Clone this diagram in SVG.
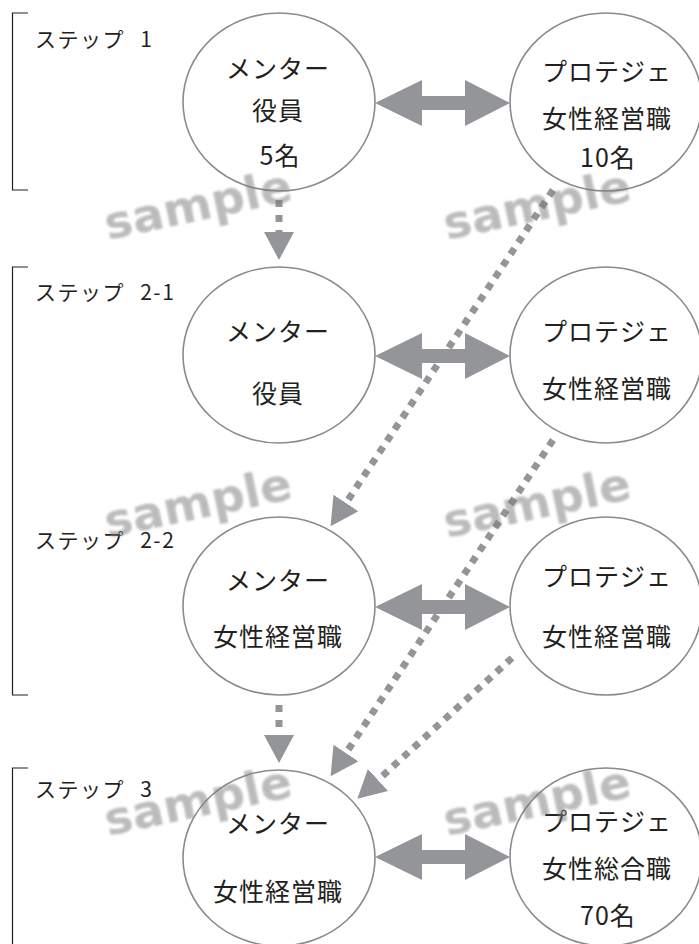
<svg xmlns="http://www.w3.org/2000/svg" xmlns:xlink="http://www.w3.org/1999/xlink" width="699" height="944" viewBox="0 0 699 944">
<style>
  .node ellipse { fill: #ffffff; stroke: #8a8a8c; stroke-width: 1.6; }
  .lbl { font-family: "Noto Sans CJK JP", "Noto Sans", sans-serif; font-size: 25px; fill: #231f20; text-anchor: middle; letter-spacing: 1px; }
  .step { font-family: "Noto Sans CJK JP", "Noto Sans", sans-serif; font-size: 21px; fill: #231f20; letter-spacing: 1.5px; word-spacing: 9px; }
  .bracket { fill: none; stroke: #231f20; stroke-width: 1.2; }
  .dot { fill: none; stroke: #939598; stroke-width: 7; stroke-dasharray: 7 7; marker-end: url(#head); }
  .dotv { fill: none; stroke: #939598; stroke-width: 7; stroke-dasharray: 7 8; marker-end: url(#head); }
  .dbl { fill: #939598; }
  .wm { font-family: "DejaVu Sans", Verdana, sans-serif; font-weight: bold; font-size: 47px; fill: #7a7a7a; opacity: 0.5; filter: url(#blur); }
</style>
<defs>
  <marker id="head" markerUnits="userSpaceOnUse" viewBox="0 -15 28 30" refX="0" refY="0" markerWidth="28" markerHeight="30" orient="auto">
    <path d="M0,-15 L28,0 L0,15 Z" fill="#939598"/>
  </marker>
  <path id="dblarrow" d="M375,0 L422,-23 L422,-7 L465,-7 L465,-23 L510,0 L465,23 L465,7 L422,7 L422,23 Z"/>
  <filter id="blur" x="-10%" y="-30%" width="120%" height="160%">
    <feGaussianBlur stdDeviation="1.3"/>
  </filter>
</defs>
<rect width="699" height="944" fill="#ffffff"/>

<g id="brackets">
  <path class="bracket" d="M28,13 H12.5 V190 H28"/>
  <path class="bracket" d="M28,267 H12.5 V695 H28"/>
  <path class="bracket" d="M28,768 H12.5 V944"/>
</g>

<g id="step-labels">
  <text class="step" x="35" y="47">ステップ 1</text>
  <text class="step" x="35" y="300">ステップ 2-1</text>
  <text class="step" x="35" y="548">ステップ 2-2</text>
  <text class="step" x="35" y="797">ステップ 3</text>
</g>

<g id="connectors">
  <use xlink:href="#dblarrow" class="dbl" transform="translate(0,103)"/>
  <use xlink:href="#dblarrow" class="dbl" transform="translate(0,356)"/>
  <use xlink:href="#dblarrow" class="dbl" transform="translate(0,607)"/>
  <use xlink:href="#dblarrow" class="dbl" transform="translate(0,857)"/>
  <path class="dotv" d="M279,200 V232"/>
  <path class="dotv" d="M279,705 V735"/>
  <path class="dot" d="M553,190 L346,503"/>
  <path class="dot" d="M553,440 L346,753"/>
  <path class="dot" d="M512,658 L378,780"/>
</g>

<g id="step1-mentor" class="node">
  <ellipse cx="279" cy="102" rx="96" ry="89"/>
  <text class="lbl" x="278" y="78">メンター</text>
  <text class="lbl" x="278" y="120">役員</text>
  <text class="lbl" x="280" y="165">5名</text>
</g>
<g id="step1-protege" class="node">
  <ellipse cx="606" cy="102" rx="96" ry="89"/>
  <text class="lbl" x="607" y="81">プロテジェ</text>
  <text class="lbl" x="607" y="128">女性経営職</text>
  <text class="lbl" x="608" y="167">10名</text>
</g>
<g id="step21-mentor" class="node">
  <ellipse cx="279" cy="355" rx="96" ry="88"/>
  <text class="lbl" x="278" y="341">メンター</text>
  <text class="lbl" x="278" y="403">役員</text>
</g>
<g id="step21-protege" class="node">
  <ellipse cx="606" cy="355" rx="96" ry="88"/>
  <text class="lbl" x="607" y="341">プロテジェ</text>
  <text class="lbl" x="607" y="398">女性経営職</text>
</g>
<g id="step22-mentor" class="node">
  <ellipse cx="279" cy="606" rx="96" ry="89"/>
  <text class="lbl" x="278" y="590">メンター</text>
  <text class="lbl" x="278" y="646">女性経営職</text>
</g>
<g id="step22-protege" class="node">
  <ellipse cx="606" cy="606" rx="96" ry="89"/>
  <text class="lbl" x="607" y="586">プロテジェ</text>
  <text class="lbl" x="607" y="646">女性経営職</text>
</g>
<g id="step3-mentor" class="node">
  <ellipse cx="279" cy="858" rx="96" ry="88"/>
  <text class="lbl" x="278" y="833">メンター</text>
  <text class="lbl" x="278" y="901">女性経営職</text>
</g>
<g id="step3-protege" class="node">
  <ellipse cx="606" cy="857" rx="96" ry="89"/>
  <text class="lbl" x="607" y="831">プロテジェ</text>
  <text class="lbl" x="607" y="878">女性総合職</text>
  <text class="lbl" x="608" y="925">70名</text>
</g>

<g id="watermarks">
  <text class="wm" x="108" y="240" transform="rotate(-12 108 240)">sample</text>
  <text class="wm" x="447" y="240" transform="rotate(-12 447 240)">sample</text>
  <text class="wm" x="108" y="538" transform="rotate(-12 108 538)">sample</text>
  <text class="wm" x="447" y="538" transform="rotate(-12 447 538)">sample</text>
  <text class="wm" x="108" y="836" transform="rotate(-12 108 836)">sample</text>
  <text class="wm" x="447" y="836" transform="rotate(-12 447 836)">sample</text>
</g>
</svg>
